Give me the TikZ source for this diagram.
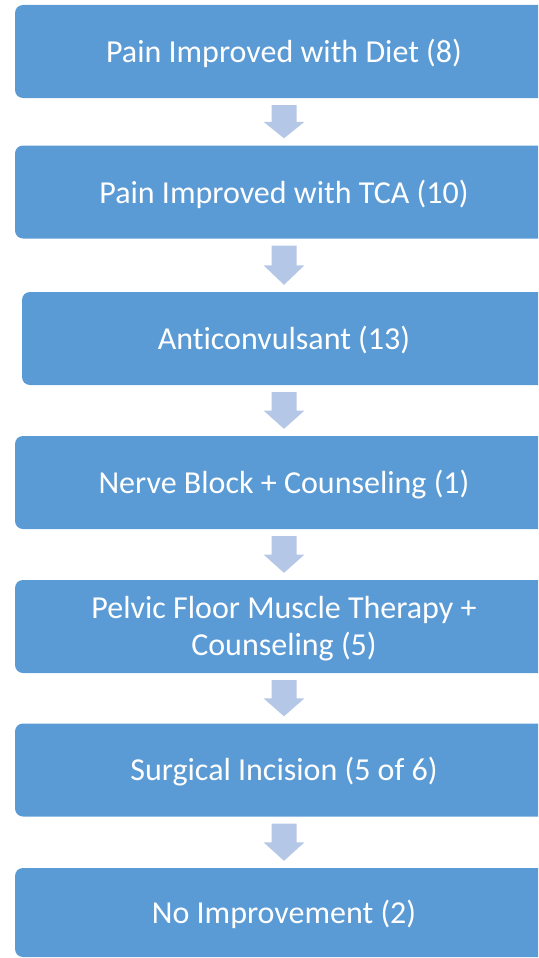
\documentclass[tikz,border=0pt]{standalone}
\usepackage{fontspec}
\setmainfont{Carlito}[Ligatures={NoCommon}]
\usetikzlibrary{calc}
\definecolor{boxblue}{HTML}{5B9BD5}
\definecolor{arrowblue}{HTML}{B4C7E7}
\newcommand{\lowertext}[2]{\raisebox{-#1}[\height][\depth]{#2}}
\tikzset{
  stepbox/.style={fill=boxblue, draw=none, rounded corners=8pt, text=white,
    font=\fontsize{32}{37}\selectfont, align=center, inner sep=0pt,
    minimum width=538pt, minimum height=93pt},
  arrowfill/.style={fill=arrowblue, draw=none}
}
\newcommand{\blockarrow}[2]{%
  \fill[arrowfill] let \p1=(#1.south), \p2=(#2.north), \p3=($(\p1)!0.5!(\p2)$) in
    (\x1-12.5pt,\y1-7pt) -- (\x1+12.5pt,\y1-7pt) -- (\x1+12.5pt,\y3) --
    (\x1+20.5pt,\y3) -- (\x1,\y2+7pt) -- (\x1-20.5pt,\y3) --
    (\x1-12.5pt,\y3) -- cycle;}
\begin{document}
\begin{tikzpicture}[x=1pt,y=-1pt]
\useasboundingbox (0,0) rectangle (538,958);
\clip (0,0) rectangle (538,958);
\node[stepbox] (b1) at (284,51.5) {\lowertext{2pt}{Pain Improved with Diet (8)}};
\node[stepbox] (b2) at (284,192) {\lowertext{2pt}{Pain Improved with TCA (10)}};
\node[stepbox, minimum width=524pt] (b3) at (284,338.5) {\lowertext{2pt}{Anticonvulsant (13)}};
\node[stepbox] (b4) at (284,482.5) {\lowertext{2pt}{Nerve Block + Counseling (1)}};
\node[stepbox] (b5) at (284,626.5) {\lowertext{3pt}{\begin{tabular}{@{}c@{}}Pelvic Floor Muscle Therapy +\\Counseling (5)\end{tabular}}};
\node[stepbox] (b6) at (284,770) {\lowertext{2pt}{Surgical Incision (5 of 6)}};
\node[stepbox, minimum height=89pt] (b7) at (284,912.5) {\lowertext{2pt}{No Improvement (2)}};
\blockarrow{b1}{b2}
\blockarrow{b2}{b3}
\blockarrow{b3}{b4}
\blockarrow{b4}{b5}
\blockarrow{b5}{b6}
\blockarrow{b6}{b7}
\end{tikzpicture}
\end{document}
